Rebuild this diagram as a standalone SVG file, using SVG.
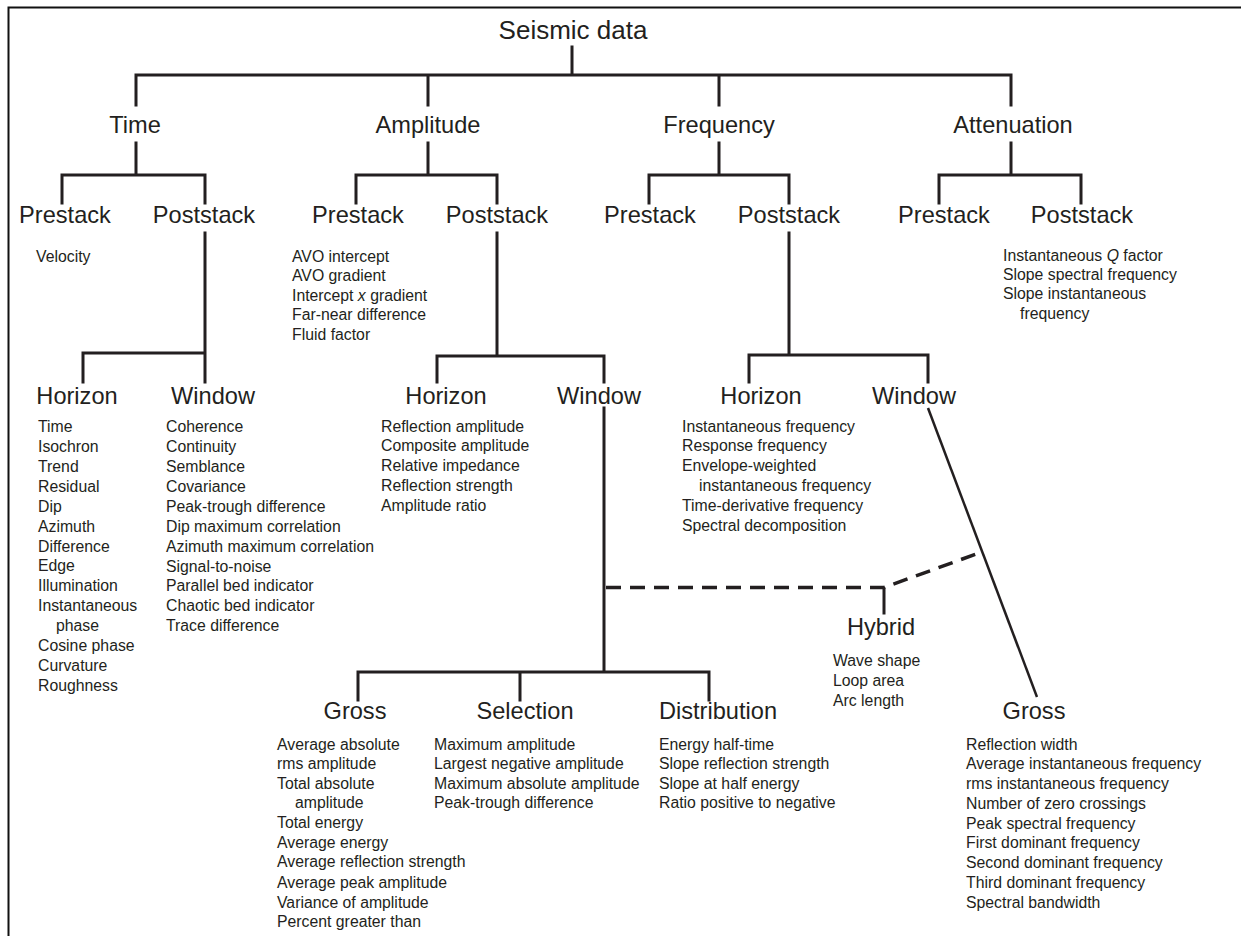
<svg xmlns="http://www.w3.org/2000/svg" width="1241" height="936" viewBox="0 0 1241 936">
  <style>
    .bg { fill: #ffffff; }
    .frame { fill: none; stroke: #111; stroke-width: 2; }
    .tree { fill: none; stroke: #231f20; stroke-width: 3; stroke-linecap: square; stroke-linejoin: miter; }
    .diag { fill: none; stroke: #231f20; stroke-width: 2.5; }
    .dash { fill: none; stroke: #231f20; stroke-width: 3.5; stroke-dasharray: 15 9; }
    .title { font-family: "Liberation Sans", Arial, sans-serif; font-size: 26px; fill: #231f20; text-anchor: middle; }
    .head { font-family: "Liberation Sans", Arial, sans-serif; font-size: 23.6px; fill: #231f20; text-anchor: middle; }
    .item { font-family: "Liberation Sans", Arial, sans-serif; font-size: 15.8px; fill: #231f20; }
    .it { font-style: italic; }
  </style>
  <rect class="bg" x="0" y="0" width="1241" height="936"/>
  <path class="frame" d="M8.5,936 V7.5 H1241"/>

  <!-- tree connectors -->
  <g id="connectors">
    <!-- root to the four families -->
    <path class="tree" d="M572,47 V75 M136,105 V75 H1011 V105 M428,75 V105 M719,75 V105"/>
    <!-- families to prestack / poststack -->
    <path class="tree" d="M136,143 V175 M62,203 V175 H205 V203"/>
    <path class="tree" d="M428,143 V175 M356,203 V175 H497 V203"/>
    <path class="tree" d="M719,143 V175 M649,203 V175 H789 V203"/>
    <path class="tree" d="M1011,143 V175 M939,203 V175 H1081 V203"/>
    <!-- poststack to horizon / window -->
    <path class="tree" d="M205,233 V382 M83,382 V353 H205"/>
    <path class="tree" d="M497,233 V356 M437,382 V356 H604 V382"/>
    <path class="tree" d="M789,233 V355 M749,382 V355 H928 V382"/>
    <!-- amplitude window to gross / selection / distribution -->
    <path class="tree" d="M604,408 V672 M358,700 V672 H709 V700 M520,672 V700"/>
    <!-- frequency window to gross -->
    <path class="diag" d="M928,408 L1037,697"/>
    <!-- hybrid links -->
    <path class="dash" d="M606,587.5 H884 L979,553"/>
    <path class="tree" d="M884,589 V613"/>
  </g>

  <g id="seismic-data"><text class="title" x="573" y="39">Seismic data</text></g>

  <g id="time"><text class="head" x="135" y="133">Time</text></g>
  <g id="amplitude"><text class="head" x="428" y="133">Amplitude</text></g>
  <g id="frequency"><text class="head" x="719" y="133">Frequency</text></g>
  <g id="attenuation"><text class="head" x="1013" y="133">Attenuation</text></g>

  <g id="time-prestack">
    <text class="head" x="65" y="223">Prestack</text>
    <text class="item" x="36" y="262">Velocity</text>
  </g>
  <g id="time-poststack"><text class="head" x="204" y="223">Poststack</text></g>

  <g id="amplitude-prestack">
    <text class="head" x="358" y="223">Prestack</text>
    <text class="item" x="292" y="262">AVO intercept</text>
    <text class="item" x="292" y="281">AVO gradient</text>
    <text class="item" x="292" y="301">Intercept <tspan class="it">x</tspan> gradient</text>
    <text class="item" x="292" y="320">Far-near difference</text>
    <text class="item" x="292" y="340">Fluid factor</text>
  </g>
  <g id="amplitude-poststack"><text class="head" x="497" y="223">Poststack</text></g>

  <g id="frequency-prestack"><text class="head" x="650" y="223">Prestack</text></g>
  <g id="frequency-poststack"><text class="head" x="789" y="223">Poststack</text></g>

  <g id="attenuation-prestack"><text class="head" x="944" y="223">Prestack</text></g>
  <g id="attenuation-poststack">
    <text class="head" x="1082" y="223">Poststack</text>
    <text class="item" x="1003" y="261">Instantaneous <tspan class="it">Q</tspan> factor</text>
    <text class="item" x="1003" y="280">Slope spectral frequency</text>
    <text class="item" x="1003" y="299">Slope instantaneous</text>
    <text class="item" x="1020" y="319">frequency</text>
  </g>

  <g id="time-horizon">
    <text class="head" x="77" y="404">Horizon</text>
    <text class="item" x="38" y="432">Time</text>
    <text class="item" x="38" y="452">Isochron</text>
    <text class="item" x="38" y="472">Trend</text>
    <text class="item" x="38" y="492">Residual</text>
    <text class="item" x="38" y="512">Dip</text>
    <text class="item" x="38" y="532">Azimuth</text>
    <text class="item" x="38" y="552">Difference</text>
    <text class="item" x="38" y="571">Edge</text>
    <text class="item" x="38" y="591">Illumination</text>
    <text class="item" x="38" y="611">Instantaneous</text>
    <text class="item" x="56" y="631">phase</text>
    <text class="item" x="38" y="651">Cosine phase</text>
    <text class="item" x="38" y="671">Curvature</text>
    <text class="item" x="38" y="691">Roughness</text>
  </g>

  <g id="time-window">
    <text class="head" x="213" y="404">Window</text>
    <text class="item" x="166" y="432">Coherence</text>
    <text class="item" x="166" y="452">Continuity</text>
    <text class="item" x="166" y="472">Semblance</text>
    <text class="item" x="166" y="492">Covariance</text>
    <text class="item" x="166" y="512">Peak-trough difference</text>
    <text class="item" x="166" y="532">Dip maximum correlation</text>
    <text class="item" x="166" y="552">Azimuth maximum correlation</text>
    <text class="item" x="166" y="572">Signal-to-noise</text>
    <text class="item" x="166" y="591">Parallel bed indicator</text>
    <text class="item" x="166" y="611">Chaotic bed indicator</text>
    <text class="item" x="166" y="631">Trace difference</text>
  </g>

  <g id="amplitude-horizon">
    <text class="head" x="446" y="404">Horizon</text>
    <text class="item" x="381" y="432">Reflection amplitude</text>
    <text class="item" x="381" y="451">Composite amplitude</text>
    <text class="item" x="381" y="471">Relative impedance</text>
    <text class="item" x="381" y="491">Reflection strength</text>
    <text class="item" x="381" y="511">Amplitude ratio</text>
  </g>
  <g id="amplitude-window"><text class="head" x="599" y="404">Window</text></g>

  <g id="frequency-horizon">
    <text class="head" x="761" y="404">Horizon</text>
    <text class="item" x="682" y="432">Instantaneous frequency</text>
    <text class="item" x="682" y="451">Response frequency</text>
    <text class="item" x="682" y="471">Envelope-weighted</text>
    <text class="item" x="699" y="491">instantaneous frequency</text>
    <text class="item" x="682" y="511">Time-derivative frequency</text>
    <text class="item" x="682" y="531">Spectral decomposition</text>
  </g>
  <g id="frequency-window"><text class="head" x="914" y="404">Window</text></g>

  <g id="hybrid">
    <text class="head" x="881" y="635">Hybrid</text>
    <text class="item" x="833" y="666">Wave shape</text>
    <text class="item" x="833" y="686">Loop area</text>
    <text class="item" x="833" y="706">Arc length</text>
  </g>

  <g id="amplitude-gross">
    <text class="head" x="355" y="719">Gross</text>
    <text class="item" x="277" y="750">Average absolute</text>
    <text class="item" x="277" y="769">rms amplitude</text>
    <text class="item" x="277" y="789">Total absolute</text>
    <text class="item" x="295" y="808">amplitude</text>
    <text class="item" x="277" y="828">Total energy</text>
    <text class="item" x="277" y="848">Average energy</text>
    <text class="item" x="277" y="867">Average reflection strength</text>
    <text class="item" x="277" y="888">Average peak amplitude</text>
    <text class="item" x="277" y="908">Variance of amplitude</text>
    <text class="item" x="277" y="927">Percent greater than</text>
  </g>

  <g id="selection">
    <text class="head" x="525" y="719">Selection</text>
    <text class="item" x="434" y="750">Maximum amplitude</text>
    <text class="item" x="434" y="769">Largest negative amplitude</text>
    <text class="item" x="434" y="789">Maximum absolute amplitude</text>
    <text class="item" x="434" y="808">Peak-trough difference</text>
  </g>

  <g id="distribution">
    <text class="head" x="718" y="719">Distribution</text>
    <text class="item" x="659" y="750">Energy half-time</text>
    <text class="item" x="659" y="769">Slope reflection strength</text>
    <text class="item" x="659" y="789">Slope at half energy</text>
    <text class="item" x="659" y="808">Ratio positive to negative</text>
  </g>

  <g id="frequency-gross">
    <text class="head" x="1034" y="719">Gross</text>
    <text class="item" x="966" y="750">Reflection width</text>
    <text class="item" x="966" y="769">Average instantaneous frequency</text>
    <text class="item" x="966" y="789">rms instantaneous frequency</text>
    <text class="item" x="966" y="809">Number of zero crossings</text>
    <text class="item" x="966" y="829">Peak spectral frequency</text>
    <text class="item" x="966" y="848">First dominant frequency</text>
    <text class="item" x="966" y="868">Second dominant frequency</text>
    <text class="item" x="966" y="888">Third dominant frequency</text>
    <text class="item" x="966" y="908">Spectral bandwidth</text>
  </g>
</svg>
